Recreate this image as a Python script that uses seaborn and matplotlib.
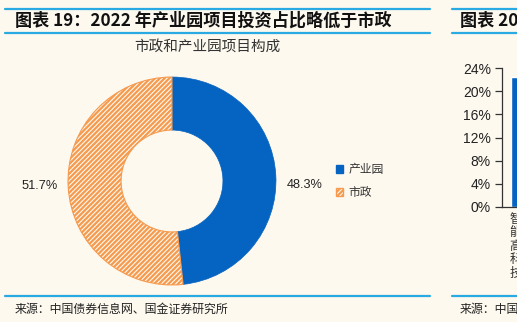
import matplotlib
matplotlib.use("Agg")
import matplotlib.pyplot as plt
import seaborn as sns
import pandas as pd
from matplotlib.patches import Patch
from matplotlib.ticker import PercentFormatter, FixedLocator
from matplotlib.lines import Line2D

# ---- data ----
pie_labels = ["产业园", "市政"]
pie_values = [48.3, 51.7]
pie_value_text = ["48.3%", "51.7%"]
bar_categories = ["智\n能\n高\n科\n技"]
bar_values = [22.4]
y_ticks = [0, 4, 8, 12, 16, 20, 24]

title_left = "图表 19：2022 年产业园项目投资占比略低于市政"
title_right = "图表 20"
subtitle = "市政和产业园项目构成"
source_left = "来源：中国债券信息网、国金证券研究所"
source_right = "来源：中国"

BG = "#FDF9EF"
BLUE = "#0563C1"
ORANGE = "#F59A4E"
LINE = "#2AAAE2"
CJK = ["Noto Sans CJK SC", "DejaVu Sans"]
NUM = ["Liberation Sans", "Noto Sans CJK SC"]

sns.set_theme(style="white", rc={"axes.facecolor": BG, "figure.facecolor": BG})
plt.rcParams["font.family"] = CJK
plt.rcParams["hatch.linewidth"] = 1.6

W, H = 517, 322
fig = plt.figure(figsize=(W / 100, H / 100), dpi=100)
fig.patch.set_facecolor(BG)

def fx(px):
    return px / W

def fy(py):
    return 1 - py / H

# header / footer rules
for y in (9, 33, 296):
    fig.add_artist(Line2D([fx(5), fx(430)], [fy(y), fy(y)], color=LINE, lw=1.6))
    fig.add_artist(Line2D([fx(452), fx(517)], [fy(y), fy(y)], color=LINE, lw=1.6))

fig.text(fx(15), fy(21), title_left, fontsize=12.3, fontweight="bold", va="center", ha="left",
         color="#111111", family=CJK)
fig.text(fx(460), fy(21), title_right, fontsize=12.3, fontweight="bold", va="center", ha="left",
         color="#111111", family=CJK)
fig.text(fx(207), fy(47), subtitle, fontsize=10.5, va="center", ha="center", color="#333333",
         family=CJK)
fig.text(fx(15), fy(309), source_left, fontsize=8.6, va="center", ha="left", color="#222222",
         family=CJK)
fig.text(fx(460), fy(309), source_right, fontsize=8.6, va="center", ha="left", color="#222222",
         family=CJK)

# ---- donut ----
cx, cy, r = 172, 181, 105
ax = fig.add_axes([fx(cx - r), fy(cy + r), 2 * r / W, 2 * r / H])
ax.set_facecolor(BG)
wedges, _ = ax.pie(pie_values, startangle=90, counterclock=False, radius=1,
                   wedgeprops=dict(width=0.51))
wedges[0].set_facecolor(BLUE)
wedges[0].set_edgecolor(BLUE)
wedges[0].set_linewidth(0.5)
wedges[1].set_facecolor(BG)
wedges[1].set_edgecolor(ORANGE)
wedges[1].set_hatch("///////")
wedges[1].set_linewidth(0.8)
ax.set_xlim(-1.01, 1.01)
ax.set_ylim(-1.01, 1.01)
ax.set_aspect("equal")
ax.axis("off")

fig.text(fx(304.5), fy(185.5), pie_value_text[0], fontsize=9.2, ha="center", va="center",
         color="#222222", family=NUM)
fig.text(fx(40), fy(186), pie_value_text[1], fontsize=9.2, ha="center", va="center",
         color="#222222", family=NUM)

handles = [Patch(facecolor=BLUE, edgecolor=BLUE, label=pie_labels[0]),
           Patch(facecolor=BG, edgecolor=ORANGE, hatch="///////", label=pie_labels[1])]
fig.legend(handles=handles, loc="upper left", bbox_to_anchor=(fx(336), fy(163)),
           frameon=False, fontsize=8.5, handlelength=0.6, handleheight=0.6,
           handletextpad=0.45, labelspacing=0.85, borderpad=0, borderaxespad=0,
           labelcolor="#333333", prop={"family": CJK, "size": 8.5})

# ---- partial bar chart on the right ----
unit = 20.0
bar_w = 0.45
left_px = 502
ax2 = fig.add_axes([fx(left_px), fy(207), 200 / W, (207 - 68) / H])
ax2.set_facecolor(BG)
df = pd.DataFrame({"cat": bar_categories, "val": bar_values})
sns.barplot(data=df, x="cat", y="val", ax=ax2, color=BLUE, width=bar_w, saturation=1)
x0 = -(515.5 - left_px) / unit
ax2.set_xlim(x0, x0 + 200 / unit)
ax2.set_ylim(0, 24)
ax2.yaxis.set_major_locator(FixedLocator(y_ticks))
ax2.yaxis.set_major_formatter(PercentFormatter(decimals=0))
ax2.set_xlabel("")
ax2.set_ylabel("")
for s in ("top", "right"):
    ax2.spines[s].set_visible(False)
for s in ("left", "bottom"):
    ax2.spines[s].set_color("#333333")
    ax2.spines[s].set_linewidth(0.9)
ax2.tick_params(axis="y", direction="out", length=5, width=0.9, color="#333333",
                labelsize=10, pad=3, left=True)
ax2.tick_params(axis="x", length=0, pad=4)
for t in ax2.get_yticklabels():
    t.set_family(NUM)
    t.set_color("#222222")
for t in ax2.get_xticklabels():
    t.set_family(CJK)
    t.set_fontsize(9)
    t.set_color("#333333")
    t.set_linespacing(1.05)
ax2.set_xticks([x0], minor=True)
ax2.tick_params(axis="x", which="minor", direction="out", length=4, width=0.9, color="#333333")

fig.savefig("out.png", dpi=100, facecolor=BG)
